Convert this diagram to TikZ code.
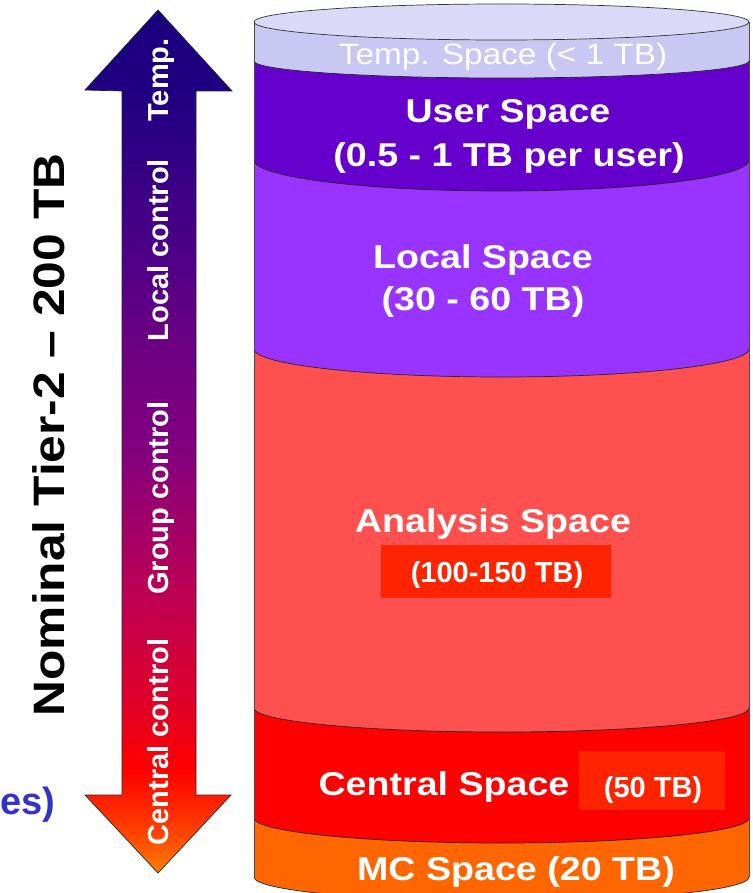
\documentclass[tikz,border=0pt]{standalone}
\usepackage{fontspec}
\setmainfont{Liberation Sans}
\definecolor{tempTop}{RGB}{218,218,248}
\definecolor{tempBand}{RGB}{200,200,242}
\definecolor{userCol}{RGB}{102,0,204}
\definecolor{localCol}{RGB}{153,51,255}
\definecolor{anaCol}{RGB}{255,80,80}
\definecolor{centralCol}{RGB}{255,0,0}
\definecolor{mcCol}{RGB}{255,102,0}
\definecolor{tagCol}{RGB}{255,36,0}
\definecolor{noteBlue}{RGB}{51,51,204}
% vertical colour run of the control arrow (25bp = bottom tip, 75bp = top tip)
\pgfdeclareverticalshading{ctrlgrad}{100bp}{%
  rgb(0bp)=(1,0.5,0); rgb(25bp)=(1,0.5,0); rgb(27.5bp)=(1,0.25,0);
  rgb(31bp)=(1,0,0); rgb(35bp)=(0.87,0,0.16); rgb(40.8bp)=(0.75,0,0.32);
  rgb(50bp)=(0.5,0,0.5); rgb(55.3bp)=(0.43,0,0.51); rgb(61bp)=(0.3,0,0.53);
  rgb(69.8bp)=(0.13,0,0.51); rgb(75bp)=(0.1,0,0.5); rgb(100bp)=(0.1,0,0.5)}
\newcommand\wx[2]{\scalebox{#1}[1]{#2}}
% one layer of the storage cylinder: left side, bottom arc, right side
\newcommand\layer[4]{%
  \fill[#1] (254,#2) -- (254,#3)
    arc[start angle=180,end angle=360,x radius=247.5pt,y radius=#4pt]
    -- (749,#2) -- cycle;}
\newcommand\seam[2]{%
  \draw[seamline] (254,#1)
    arc[start angle=180,end angle=360,x radius=247.5pt,y radius=#2pt];}
\begin{document}
\begin{tikzpicture}[x=1pt,y=-1pt,
  seamline/.style={draw=black!85,line width=0.7pt},
  biglabel/.style={text=white,font=\fontsize{33}{36}\selectfont\bfseries,inner sep=0pt,anchor=base},
  taglabel/.style={text=white,font=\fontsize{29}{32}\selectfont\bfseries,inner sep=0pt,anchor=base},
  ctrllabel/.style={text=white,font=\fontsize{29}{32}\selectfont\bfseries,inner sep=0pt,anchor=base,rotate=90}]
\useasboundingbox (0,0) rectangle (752,893);
\fill[white] (0,0) rectangle (752,893);

% ---- storage cylinder, painted from the bottom layer upwards ----
\layer{mcCol}{818}{877}{24}
\layer{centralCol}{708}{818}{25}
\layer{anaCol}{349}{708}{24}
\layer{localCol}{160}{349}{28}
\layer{userCol}{61}{160}{31}
\layer{tempBand}{22}{61}{17}
\seam{877}{24}
\seam{818}{25}
\seam{708}{24}
\seam{349}{28}
\seam{160}{31}
\seam{61}{17}
\draw[black!70,line width=0.8pt] (254,22) -- (254,877) (749,22) -- (749,877);
\filldraw[fill=tempTop,draw=black!80,line width=0.7pt] (501.5,22) ellipse[x radius=247.5pt,y radius=18pt];

% highlighted size tags
\fill[tagCol] (381,545) rectangle (611,598);
\fill[tagCol] (579,751) rectangle (725,810);

% ---- cylinder labels ----
\node[biglabel,font=\fontsize{29.5}{32}\selectfont] (temp) at (503,65) {\wx{1.13}{Temp. Space (< 1 TB)}};
\node[biglabel] (user) at (508,123) {\wx{1.14}{User Space}};
\node[biglabel] (userSz) at (509,167) {\wx{1.14}{(0.5 - 1 TB per user)}};
\node[biglabel] (local) at (483,268) {\wx{1.14}{Local Space}};
\node[biglabel] (localSz) at (483,310) {\wx{1.14}{(30 - 60 TB)}};
\node[biglabel] (ana) at (493,532) {\wx{1.14}{Analysis Space}};
\node[taglabel] (anaSz) at (497,582) {(100-150 TB)};
\node[biglabel] (central) at (444,795) {\wx{1.14}{Central Space}};
\node[taglabel] (centralSz) at (653,797) {(50 TB)};
\node[biglabel] (mc) at (516,880) {\wx{1.14}{MC Space (20 TB)}};

% ---- control arrow ----
\draw[shading=ctrlgrad,draw=black!85,line width=0.7pt]
  (158,10) -- (232,91) -- (196,91) -- (196,795) -- (231,795) -- (158,873)
  -- (85,795) -- (122,795) -- (122,91) -- (85,90) -- cycle;
\node[ctrllabel] (ctTemp) at (168,80) {Temp.};
\node[ctrllabel] (ctLocal) at (168,250) {Local control};
\node[ctrllabel] (ctGroup) at (168,498) {Group control};
\node[ctrllabel] (ctCentral) at (168,742) {Central control};

% ---- side captions ----
\node[inner sep=0pt,anchor=base,rotate=90,font=\fontsize{44}{48}\selectfont\bfseries] (nominal) at (64,435) {\wx{1.13}{Nominal Tier-2 – 200 TB}};
\node[inner sep=0pt,anchor=base west,text=noteBlue,font=\fontsize{38}{42}\selectfont\bfseries] (note) at (0.5,814) {es)};
\end{tikzpicture}
\end{document}
